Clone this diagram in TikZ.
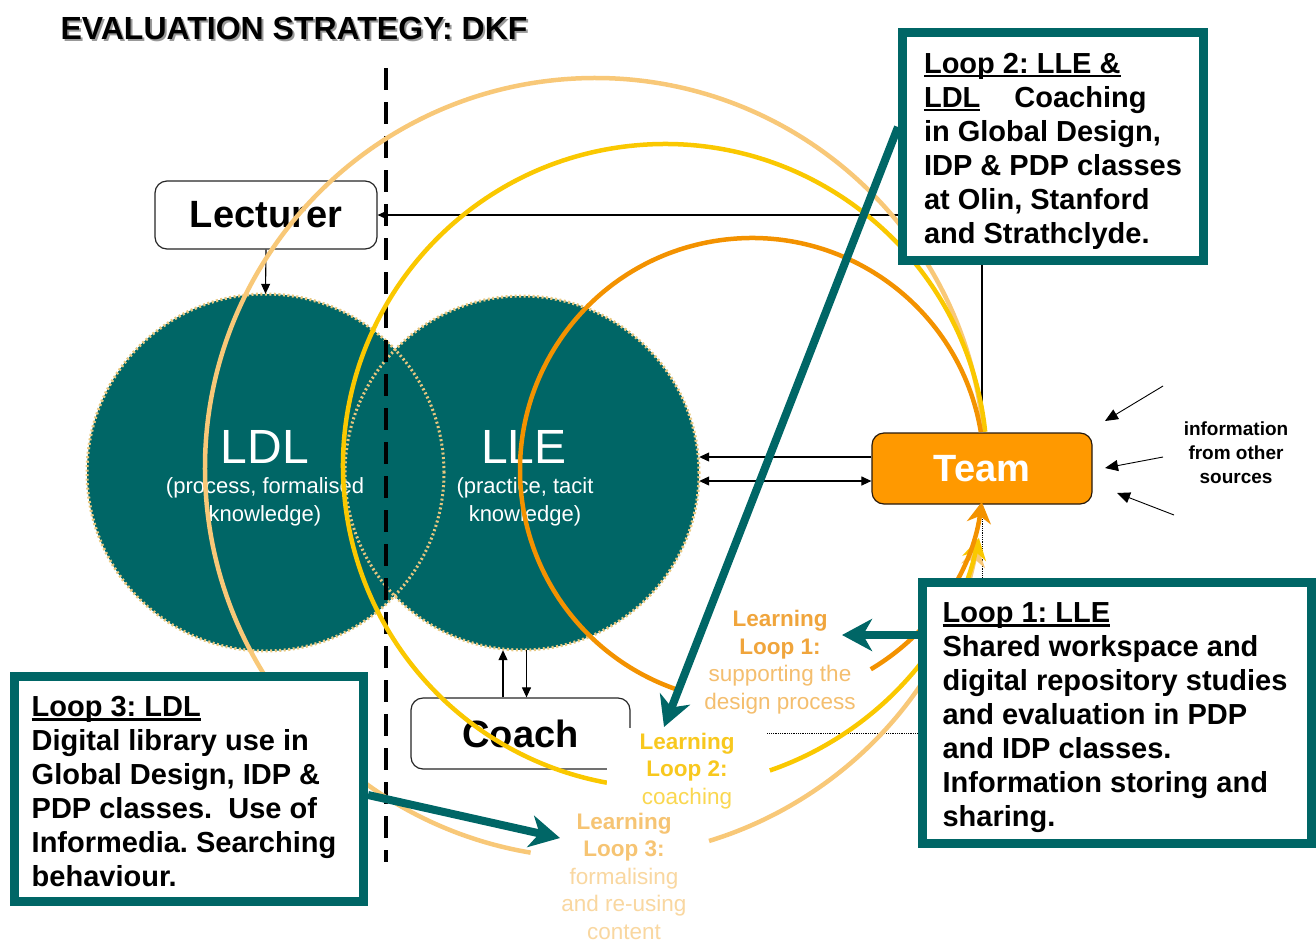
\documentclass[tikz,border=0pt]{standalone}
\usepackage{fontspec}
\setmainfont{Liberation Sans}
\usetikzlibrary{arrows.meta, positioning}
\definecolor{dkfteal}{RGB}{0,102,102}
\definecolor{teamorange}{RGB}{255,153,0}
\definecolor{loopone}{RGB}{243,146,0}
\definecolor{looptwo}{RGB}{250,200,0}
\definecolor{loopthree}{RGB}{248,200,120}
\definecolor{rimtan}{RGB}{232,200,128}
\definecolor{lbone}{RGB}{240,165,60}
\definecolor{lsone}{RGB}{244,190,110}
\definecolor{lbtwo}{RGB}{248,200,30}
\definecolor{lstwo}{RGB}{250,215,80}
\definecolor{lbthree}{RGB}{246,196,115}
\definecolor{lsthree}{RGB}{249,215,160}
\newcommand{\loopul}[1]{\setbox0=\hbox{#1}\rlap{\rule[-4pt]{\wd0}{2.6pt}}\box0}
\tikzset{
  actor/.style={draw=black!85, line width=1.2pt, rounded corners=12pt, fill=white,
                inner sep=0pt, font=\fontsize{38}{40}\selectfont\bfseries},
  knowledge/.style={circle, fill=dkfteal, inner sep=0pt},
  rim/.style={draw=rimtan, line width=3pt, dash pattern=on 2pt off 2.5pt},
  bigname/.style={text=white, font=\fontsize{48}{50}\selectfont},
  note/.style={text=white, align=center, font=\fontsize{22}{28}\selectfont},
  conn/.style={draw=black, line width=1.1pt, -{Triangle[length=10pt,width=9pt]}},
  evalbox/.style={draw=dkfteal, line width=9pt, fill=white, align=left, inner sep=0pt,
                  font=\fontsize{29}{34}\selectfont\bfseries},
  looplabel/.style={fill=white, align=center, inner sep=5pt,
                    font=\fontsize{22.5}{27.5}\selectfont},
  pointer/.style={draw=dkfteal, line width=8pt, -{Stealth[length=30pt,width=32pt,inset=9pt]}},
  looparc/.style={line width=4.5pt},
  looptip/.style={-{Stealth[length=21pt,width=24pt]}}
}
\begin{document}
\frenchspacing
\begin{tikzpicture}[x=1pt, y=1pt]
\useasboundingbox (0,0) rectangle (1316,-945);

% title with its shadow
\node[text=black!40, font=\fontsize{32}{34}\selectfont\bfseries] (titleshadow) at (296,-30) {EVALUATION STRATEGY: DKF};
\node[font=\fontsize{32}{34}\selectfont\bfseries] (title) at (294,-28) {EVALUATION STRATEGY: DKF};

% the two knowledge circles
\node[knowledge, minimum size=357pt] (ldl) at (265.5,-472.5) {};
\node[knowledge, minimum size=354pt] (lle) at (522,-473) {};
\draw[rim] (ldl.center) circle[radius=178.5];
\draw[rim] (lle.center) circle[radius=177];
\node[bigname] (ldlname) at (265,-447) {LDL};
\node[note] (ldlnote) at (265,-502) {(process, formalised\\knowledge)};
\node[bigname] (llename) at (524,-447) {LLE};
\node[note] (llenote) at (525,-502) {(practice, tacit\\knowledge)};

% actors
\node[actor, minimum width=222pt, minimum height=68pt] (lecturer) at (266,-215) {Lecturer};
\node[actor, minimum width=220pt, minimum height=71pt, fill=teamorange, draw=black!80!brown, text=white] (team) at (982,-468.5) {Team};
\node[actor, minimum width=219pt, minimum height=71pt] (coach) at (520.5,-733.5) {Coach};
\node[align=center, font=\fontsize{19}{24}\selectfont\bfseries] (info) at (1236,-453) {information\\from other\\sources};

% connectors
\draw[conn] (team.north) |- (lecturer.east);
\draw[conn] (lecturer.south) -- (ldl.north);
\draw[conn] ([yshift=11.5pt]team.west) -- ([yshift=11.5pt]team.west -| lle.east);
\draw[conn, {Triangle[length=10pt,width=9pt]}-{Triangle[length=10pt,width=9pt]}] ([yshift=-12.5pt]team.west -| lle.east) -- ([yshift=-12.5pt]team.west);
\draw[conn] ([xshift=-17.5pt]coach.north) -- ([xshift=-17.5pt]coach.north |- lle.south);
\draw[conn] ([xshift=6pt]coach.north |- lle.south) -- ([xshift=6pt]coach.north);
\draw[black, line width=0.8pt, densely dotted] (coach.east) -| (team.south);
\coordinate (src1) at (1163,-386);
\coordinate (src2) at (1163,-457);
\coordinate (src3) at (1174,-515);
\draw[conn, -{Triangle[length=13pt,width=11pt]}, line width=0.9pt] (src1) -- (1105,-421);
\draw[conn, -{Triangle[length=13pt,width=11pt]}, line width=0.9pt] (src2) -- (1105,-468);
\draw[conn, -{Triangle[length=13pt,width=11pt]}, line width=0.9pt] (src3) -- (1117,-493);

% LDL / LLE divide
\draw[line width=4.5pt, dash pattern=on 22pt off 12pt] (386,-68) -- (386,-862);

% learning loops
\draw[looparc, loopthree] (595,-468) ++(5.3:390) arc[start angle=5.3, end angle=260.5, radius=390];
\draw[looparc, loopthree, looptip] (595,-468) ++(287:390) arc[start angle=287, end angle=348.6, radius=390];
\draw[looparc, looptwo] (665,-466) ++(6.1:322) arc[start angle=6.1, end angle=259.6, radius=322];
\draw[looparc, looptwo, looptip] (665,-466) ++(289:322) arc[start angle=289, end angle=347.1, radius=322];
\draw[looparc, loopone] (752,-470) ++(9.4:232) arc[start angle=9.4, end angle=251.3, radius=232];
\draw[looparc, loopone, looptip] (752,-470) ++(300.8:232) arc[start angle=300.8, end angle=352.1, radius=232];

\node[looplabel] (loop1label) at (780,-662) {\textcolor{lbone}{\textbf{Learning}}\\\textcolor{lbone}{\textbf{Loop 1:}}\\\textcolor{lsone}{supporting the}\\\textcolor{lsone}{design process}};
\node[looplabel, minimum width=160pt] (loop2label) at (687,-771) {\textcolor{lbtwo}{\textbf{Learning}}\\\textcolor{lbtwo}{\textbf{Loop 2:}}\\\textcolor{lstwo}{coaching}};
\node[looplabel] (loop3label) at (624,-876) {\textcolor{lbthree}{\textbf{Learning}}\\\textcolor{lbthree}{\textbf{Loop 3:}}\\\textcolor{lsthree}{formalising}\\\textcolor{lsthree}{and re-using}\\\textcolor{lsthree}{content}};

% evaluation boxes
\node[evalbox, minimum width=301pt, minimum height=228pt] (loop2box) at (1053,-146.5) {\rule{0pt}{30pt}\loopul{Loop 2: LLE \&}\\\loopul{LDL}\hspace{34pt}Coaching\\in Global Design,\\IDP \& PDP classes\\at Olin, Stanford\\and Strathclyde.};
\node[evalbox, minimum width=389pt, minimum height=261pt] (loop1box) at (1117,-713) {\rule{0pt}{30pt}\loopul{Loop 1: LLE}\\Shared workspace and\\digital repository studies\rule{4pt}{0pt}\\and evaluation in PDP\\and IDP classes.\\Information storing and\\sharing.};
\node[evalbox, minimum width=349pt, minimum height=225pt] (loop3box) at (189,-789) {\rule{0pt}{26pt}\loopul{Loop 3: LDL}\\Digital library use in\\Global Design, IDP \&\\PDP classes.\ \ Use of\\Informedia. Searching\rule{10pt}{0pt}\\behaviour.};

% pointers to the loops
\coordinate (tip1) at (842,-635);
\coordinate (tip2) at (664,-727);
\coordinate (tip3) at (560,-838);
\draw[pointer] ([yshift=78pt]loop1box.west) -- (tip1);
\draw[pointer] ([yshift=19.5pt]loop2box.west) -- (tip2);
\draw[pointer] ([yshift=-6pt]loop3box.east) -- (tip3);
\end{tikzpicture}
\end{document}
